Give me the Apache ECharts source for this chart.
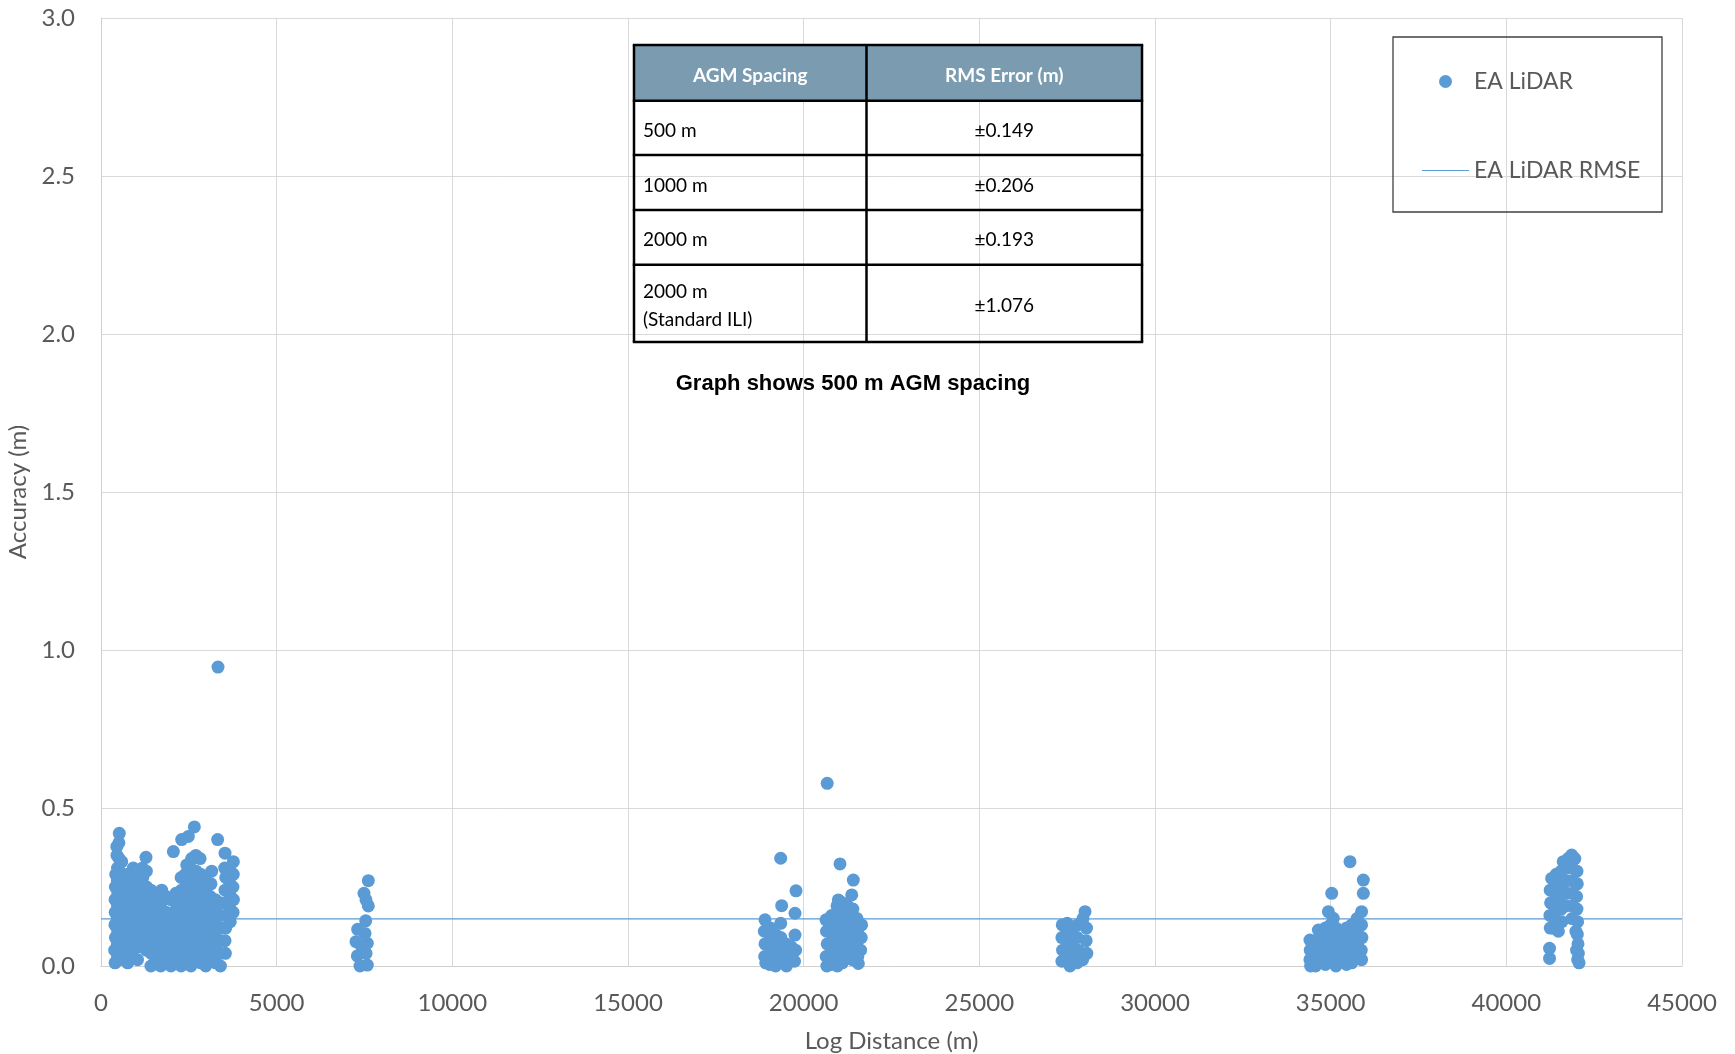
<!DOCTYPE html>
<html>
<head>
<meta charset="utf-8">
<title>EA LiDAR accuracy along the log</title>
<script src="https://cdn.jsdelivr.net/npm/echarts@6/dist/echarts.min.js"></script>
<style>
  html, body { margin: 0; padding: 0; background: #ffffff; }
  #chart { width: 1735px; height: 1054px; }
</style>
</head>
<body>
<div id="chart"></div>
<script>
// Accuracy (m) of each AGM check point against its log distance (m), grouped by log section.
const sectionA = [
  [400,0.01],[390,0.05],[410,0.09],[395,0.13],[405,0.17],[400,0.21],[410,0.25],[420,0.29],
  [470,0.03],[465,0.07],[475,0.11],[460,0.15],[470,0.19],[480,0.23],[465,0.27],[470,0.31],[455,0.35],[450,0.378],
  [530,0.02],[540,0.06],[525,0.10],[535,0.14],[530,0.18],[545,0.22],[530,0.26],[520,0.30],[515,0.34],[510,0.39],[521,0.42],
  [620,0.04],[630,0.08],[610,0.12],[625,0.16],[640,0.20],[615,0.24],[600,0.28],[590,0.33],
  [760,0.01],[750,0.05],[770,0.09],[745,0.13],[765,0.17],[755,0.21],[770,0.25],[760,0.29],
  [900,0.03],[890,0.07],[910,0.11],[895,0.15],[905,0.19],[880,0.23],[900,0.27],[920,0.31],
  [1040,0.02],[1050,0.06],[1030,0.10],[1045,0.14],[1060,0.18],[1035,0.22],[1040,0.26],[1050,0.30],
  [1180,0.07],[1170,0.10],[1190,0.13],[1175,0.16],[1185,0.20],[1170,0.24],[1190,0.28],[1180,0.31],
  [1290,0.05],[1300,0.09],[1280,0.13],[1295,0.17],[1285,0.21],[1300,0.25],[1290,0.30],[1280,0.344],
  [1420,0.00],[1430,0.04],[1410,0.08],[1425,0.12],[1440,0.16],[1415,0.20],[1420,0.24],
  [1560,0.02],[1550,0.06],[1570,0.10],[1555,0.14],[1565,0.18],[1550,0.22],
  [1700,0.00],[1690,0.04],[1710,0.08],[1700,0.12],[1690,0.16],[1710,0.20],[1727,0.24],
  [1850,0.01],[1840,0.05],[1860,0.09],[1845,0.13],[1855,0.17],[1850,0.22],
  [1990,0.00],[2000,0.04],[1980,0.08],[1995,0.12],[2005,0.16],[1990,0.21],
  [2060,0.362],
  [2130,0.02],[2140,0.06],[2120,0.10],[2135,0.14],[2145,0.18],[2130,0.23],
  [2296,0.40],
  [2280,0.00],[2270,0.04],[2290,0.08],[2275,0.12],[2285,0.16],[2270,0.20],[2290,0.24],[2280,0.28],
  [2486,0.41],
  [2420,0.01],[2430,0.05],[2410,0.09],[2425,0.13],[2435,0.17],[2415,0.21],[2420,0.25],[2400,0.29],[2440,0.32],
  [2657,0.44],
  [2560,0.00],[2570,0.04],[2550,0.08],[2565,0.12],[2575,0.16],[2555,0.20],[2560,0.24],[2570,0.28],[2550,0.31],[2580,0.34],
  [2700,0.02],[2710,0.06],[2690,0.10],[2705,0.14],[2715,0.18],[2695,0.22],[2700,0.26],[2710,0.30],[2700,0.35],
  [2840,0.01],[2830,0.05],[2850,0.09],[2835,0.13],[2845,0.17],[2830,0.21],[2850,0.25],[2840,0.29],[2820,0.34],
  [2980,0.00],[2990,0.04],[2970,0.08],[2985,0.12],[2995,0.16],[2975,0.20],[2980,0.24],[2960,0.28],
  [3120,0.02],[3110,0.06],[3130,0.10],[3115,0.14],[3125,0.18],[3110,0.22],[3130,0.26],[3150,0.30],
  [3260,0.01],[3270,0.05],[3250,0.09],[3265,0.13],[3275,0.17],[3255,0.21],
  [3320,0.40],[3330,0.946],
  [3400,0.00],[3390,0.04],[3410,0.08],[3395,0.12],[3405,0.16],[3390,0.20],
  [3530,0.357],
  [3540,0.04],[3530,0.08],[3550,0.12],[3535,0.16],[3545,0.20],[3530,0.24],[3550,0.28],[3520,0.31],
  [3680,0.14],[3670,0.18],[3690,0.22],[3675,0.26],[3685,0.30],
  [3767,0.33],[3760,0.17],[3770,0.21],[3755,0.25],[3765,0.29]
];

const sectionB = [
  [7609,0.270],[7486,0.230],[7543,0.209],[7609,0.190],[7534,0.143],[7305,0.116],[7514,0.103],
  [7258,0.077],[7580,0.072],[7420,0.061],[7543,0.040],[7296,0.032],[7372,0.000],[7580,0.003]
];

const sectionC = [
  [19346,0.341],[19782,0.238],[19374,0.191],[19754,0.167],[19346,0.135],[18900,0.146],[19754,0.098],
  [18880,0.11],[18900,0.07],[18890,0.03],[18920,0.01],
  [19050,0.12],[19040,0.08],[19060,0.04],[19030,0.005],
  [19200,0.10],[19180,0.06],[19220,0.02],[19200,0.00],
  [19350,0.09],[19330,0.05],[19360,0.01],
  [19500,0.07],[19480,0.03],[19510,0.00],
  [19650,0.06],[19640,0.02],
  [19770,0.05],[19740,0.015]
];

const sectionD = [
  [20670,0.578],[21034,0.323],[21413,0.272],[21368,0.225],[20986,0.209],[20636,0.146],
  [20650,0.11],[20670,0.07],[20640,0.03],[20660,0.00],
  [20800,0.16],[20790,0.12],[20810,0.08],[20800,0.04],[20790,0.005],
  [20950,0.19],[20940,0.15],[20960,0.11],[20950,0.07],[20930,0.03],[20960,0.00],
  [21100,0.20],[21110,0.16],[21090,0.12],[21100,0.08],[21120,0.04],[21100,0.01],
  [21250,0.19],[21240,0.15],[21260,0.11],[21250,0.07],[21230,0.03],
  [21400,0.18],[21390,0.14],[21380,0.10],[21400,0.06],[21390,0.02],
  [21520,0.15],[21530,0.11],[21510,0.07],[21540,0.03],[21556,0.008],
  [21650,0.13],[21640,0.09],[21620,0.05]
];

const sectionE = [
  [27360,0.13],[27350,0.09],[27370,0.05],[27350,0.015],
  [27500,0.135],[27490,0.10],[27510,0.06],[27500,0.02],
  [27640,0.12],[27650,0.08],[27630,0.04],[27580,0.00],
  [27800,0.13],[27790,0.09],[27810,0.05],[27780,0.01],
  [27950,0.15],[28008,0.172],[28050,0.12],[28040,0.08],[28060,0.04],[27940,0.02]
];

const sectionF = [
  [35550,0.33],[35930,0.272],[35930,0.23],[35030,0.23],[34935,0.172],[35880,0.172],[35075,0.151],
  [34650,0.114],[34410,0.082],
  [34420,0.05],[34410,0.02],[34430,0.00],
  [34560,0.07],[34550,0.03],[34570,0.00],
  [34700,0.10],[34690,0.06],[34710,0.02],
  [34850,0.12],[34840,0.08],[34860,0.04],[34850,0.005],
  [35000,0.13],[34990,0.09],[35010,0.05],[35000,0.015],
  [35150,0.12],[35140,0.08],[35160,0.04],[35150,0.00],
  [35300,0.11],[35290,0.07],[35310,0.03],
  [35450,0.12],[35440,0.08],[35460,0.04],[35450,0.005],
  [35600,0.13],[35590,0.09],[35610,0.05],[35600,0.01],
  [35750,0.15],[35740,0.11],[35760,0.07],[35750,0.03],
  [35880,0.13],[35890,0.09],[35870,0.05],[35880,0.02]
];

const sectionG = [
  [41860,0.351],[41620,0.330],[41290,0.277],[41760,0.34],[41950,0.34],
  [41250,0.24],[41260,0.20],[41240,0.16],[41250,0.12],
  [41420,0.29],[41400,0.25],[41410,0.21],[41390,0.17],[41420,0.13],
  [41560,0.30],[41570,0.26],[41550,0.22],[41560,0.18],[41580,0.14],
  [41720,0.31],[41710,0.27],[41730,0.23],[41700,0.19],
  [41880,0.31],[41870,0.27],[41890,0.23],[41880,0.19],[41870,0.15],
  [42010,0.30],[42020,0.26],[42000,0.22],[42010,0.18],[42030,0.14],
  [41980,0.11],[42020,0.10],[42040,0.07],[42050,0.04],[42070,0.01],[42000,0.05],[42030,0.02],
  [41230,0.056],[41230,0.024],[41330,0.12],[41480,0.11]
];

// RMS error of the 500 m AGM spacing, drawn as a reference line
const rmseValue = 0.149;

// Summary table
const tableHeader = ['AGM Spacing', 'RMS Error (m)'];
const tableSpacing = ['500 m', '1000 m', '2000 m', '2000 m\n(Standard ILI)'];
const tableRmse = ['±0.149', '±0.206', '±0.193', '±1.076'];
const noteText = 'Graph shows 500 m AGM spacing';

const xMin = 0, xMax = 45000, xStep = 5000;
const yMin = 0, yMax = 3, yStep = 0.5;

const allPoints = [].concat(sectionA, sectionB, sectionC, sectionD, sectionE, sectionF, sectionG);

const axisFont = 'Lato';
const textGrey = '#595959';
const pointBlue = '#5b9bd5';

// ---- table built as graphic elements ----
const tLeft = 634, tRight = 1142, tMid = 866.5;
const rowEdges = [45, 100.7, 155, 210, 264.7, 342];
const tableEls = [];
tableEls.push({
  type: 'rect', shape: { x: tLeft, y: rowEdges[0], width: tRight - tLeft, height: rowEdges[1] - rowEdges[0] },
  style: { fill: '#7a9bb0' }, z: 10
});
tableHeader.forEach((h, i) => {
  tableEls.push({
    type: 'text', z: 12,
    style: {
      text: h, x: i === 0 ? (tLeft + tMid) / 2 : (tMid + tRight) / 2, y: (rowEdges[0] + rowEdges[1]) / 2 + 3,
      fill: '#ffffff', font: 'bold 19px Lato', align: 'center', verticalAlign: 'middle'
    }
  });
});
tableSpacing.forEach((s, i) => {
  const cy = (rowEdges[i + 1] + rowEdges[i + 2]) / 2;
  tableEls.push({
    type: 'text', z: 12,
    style: { text: s, x: tLeft + 9, y: cy + 3, fill: '#000000', font: '19px Lato', lineHeight: 28, align: 'left', verticalAlign: 'middle' }
  });
  tableEls.push({
    type: 'text', z: 12,
    style: { text: tableRmse[i], x: (tMid + tRight) / 2, y: cy + 3, fill: '#000000', font: '19px Lato', align: 'center', verticalAlign: 'middle' }
  });
});
rowEdges.forEach((y) => {
  tableEls.push({ type: 'line', z: 11, shape: { x1: tLeft - 1.2, y1: y, x2: tRight + 1.2, y2: y }, style: { stroke: '#000000', lineWidth: 2.5 } });
});
[tLeft, tMid, tRight].forEach((x) => {
  tableEls.push({ type: 'line', z: 11, shape: { x1: x, y1: rowEdges[0], x2: x, y2: rowEdges[rowEdges.length - 1] }, style: { stroke: '#000000', lineWidth: 2.5 } });
});
tableEls.push({
  type: 'text', z: 12,
  style: { text: noteText, x: 853, y: 384, fill: '#000000', font: 'bold 22px "Liberation Sans", Arial, sans-serif', align: 'center', verticalAlign: 'middle' }
});
// legend frame
tableEls.push({
  type: 'rect', z: 10, shape: { x: 1393, y: 37, width: 269, height: 175 },
  style: { fill: 'none', stroke: '#404040', lineWidth: 1.3 }
});

const chart = echarts.init(document.getElementById('chart'), null, { renderer: 'canvas' });
chart.setOption({
  animation: false,
  backgroundColor: '#ffffff',
  grid: { left: 101, right: 53, top: 18, bottom: 88, containLabel: false, outerBoundsMode: 'none' },
  xAxis: {
    type: 'value', min: xMin, max: xMax, interval: xStep,
    name: 'Log Distance (m)', nameLocation: 'middle', nameGap: 63,
    nameTextStyle: { fontSize: 24, color: textGrey, fontFamily: axisFont },
    axisLine: { lineStyle: { color: '#d0d0d0', width: 1 } },
    axisTick: { show: false },
    axisLabel: { fontSize: 24, color: textGrey, fontFamily: axisFont, margin: 25, formatter: (v) => String(v) },
    splitLine: { lineStyle: { color: '#d9d9d9', width: 1 } }
  },
  yAxis: {
    type: 'value', min: yMin, max: yMax, interval: yStep,
    name: 'Accuracy (m)', nameLocation: 'middle', nameGap: 66,
    nameTextStyle: { fontSize: 24, color: textGrey, fontFamily: axisFont },
    axisLine: { show: true, lineStyle: { color: '#d0d0d0', width: 1 } },
    axisTick: { show: false },
    axisLabel: { fontSize: 24, color: textGrey, fontFamily: axisFont, margin: 26, formatter: (v) => v.toFixed(1) },
    splitLine: { lineStyle: { color: '#d9d9d9', width: 1 } }
  },
  legend: {
    orient: 'vertical', left: 1422, top: 70, padding: 0,
    itemWidth: 47, itemHeight: 13, itemGap: 66,
    textStyle: { fontSize: 23, color: textGrey, fontFamily: axisFont },
    data: [
      { name: 'EA LiDAR', icon: 'circle' },
      { name: 'EA LiDAR RMSE', icon: 'path://M0,0L47,0L47,1.2L0,1.2Z' }
    ]
  },
  graphic: tableEls,
  series: [
    {
      name: 'EA LiDAR RMSE', type: 'line', z: 1, silent: true,
      data: [[xMin, rmseValue], [xMax, rmseValue]],
      symbol: 'none', lineStyle: { color: pointBlue, width: 1.2 }, itemStyle: { color: pointBlue }
    },
    {
      name: 'EA LiDAR', type: 'scatter', z: 2,
      data: allPoints, symbolSize: 13,
      itemStyle: { color: pointBlue, opacity: 1 }
    }
  ]
});
</script>
</body>
</html>
